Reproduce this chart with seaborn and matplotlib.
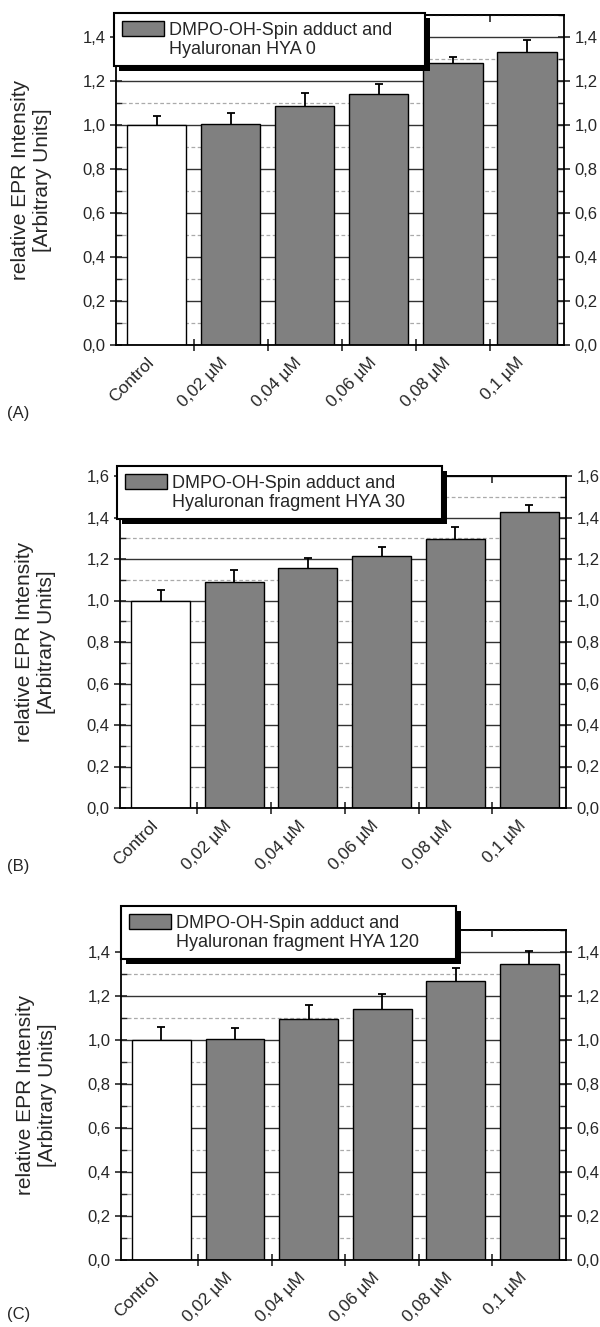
import numpy as np
import pandas as pd
import matplotlib
matplotlib.use("Agg")
import matplotlib.pyplot as plt
import seaborn as sns
from matplotlib.patches import Patch, Rectangle
from matplotlib.ticker import MultipleLocator, FuncFormatter

# values
categories = ["Control", "0,02 µM", "0,04 µM", "0,06 µM", "0,08 µM", "0,1 µM"]

hya0 = [1.00, 1.006, 1.086, 1.143, 1.28, 1.33]
hya0_err = [0.043, 0.05, 0.06, 0.042, 0.03, 0.057]

hya30 = [1.00, 1.087, 1.157, 1.213, 1.295, 1.428]
hya30_err = [0.05, 0.06, 0.046, 0.045, 0.06, 0.032]

hya120 = [1.00, 1.005, 1.095, 1.139, 1.27, 1.345]
hya120_err = [0.06, 0.05, 0.062, 0.07, 0.057, 0.06]

legend_lines = [
    ["DMPO-OH-Spin adduct and", "Hyaluronan HYA 0"],
    ["DMPO-OH-Spin adduct and", "Hyaluronan fragment HYA 30"],
    ["DMPO-OH-Spin adduct and", "Hyaluronan fragment HYA 120"],
]
panel_tags = ["(A)", "(B)", "(C)"]
y_tops = [1.5, 1.6, 1.5]

sns.set_style("ticks")
plt.rcParams['font.family'] = ['Liberation Sans', 'DejaVu Sans']

W, H = 600, 1327
fig = plt.figure(figsize=(W / 100, H / 100), dpi=100)

# axes boxes in pixels: left, right, top, bottom
boxes = [(116, 564, 15, 345), (120, 566, 476, 808), (121, 566, 930, 1260)]
# legend boxes in pixels: left, top, width, height
legend_box = [(114, 13, 311, 54), (117, 466, 325, 54), (121, 906, 335, 54)]
tag_y = [413, 866, 1315]

panels = [(hya0, hya0_err), (hya30, hya30_err), (hya120, hya120_err)]
bar_colors = ["white"] + ["#808080"] * 5


def comma(v, pos):
    return f"{v:.1f}".replace(".", ",")


legends = []
for i, (vals, errs) in enumerate(panels):
    l, r, t, b = boxes[i]
    ax = fig.add_axes([l / W, 1 - b / H, (r - l) / W, (b - t) / H])
    df = pd.DataFrame({"cat": categories, "val": vals})
    sns.barplot(data=df, x="cat", y="val", hue="cat", palette=bar_colors,
                legend=False, width=0.8, edgecolor="black", linewidth=1.0,
                ax=ax, zorder=2)
    # error bars sit behind the bars so only the upper half shows
    ax.errorbar(np.arange(len(vals)), vals, yerr=errs,
                fmt="none", ecolor="black", elinewidth=1.3, capsize=3,
                capthick=1.3, zorder=1.5)

    ax.set_xlim(-0.55, 5.5)
    ax.set_ylim(0, y_tops[i])
    ax.set_xlabel("")
    ax.set_ylabel("relative EPR Intensity\n[Arbitrary Units]", fontsize=15,
                  labelpad=22)

    # ticks between the bars, labels under the bar centres
    ax.set_xticks(np.arange(0.5, 5, 1.0))
    ax.set_xticklabels([])
    ax.set_xticks(np.arange(6), minor=True)
    ax.set_xticklabels(categories, minor=True, rotation=45, ha="right",
                       fontsize=12.5)
    ax.tick_params(axis="x", which="major", direction="inout", length=8,
                   width=1.2)
    ax.tick_params(axis="x", which="minor", length=0, pad=7)

    top = ax.secondary_xaxis("top")
    top.set_xticks(np.arange(0.5, 5, 1.0))
    top.set_xticklabels([])
    top.tick_params(direction="in", length=5, width=1.2)
    top.spines["top"].set_linewidth(1.3)

    ax.yaxis.set_major_locator(MultipleLocator(0.2))
    ax.yaxis.set_minor_locator(MultipleLocator(0.1))
    ax.yaxis.set_major_formatter(FuncFormatter(comma))
    ax.tick_params(axis="y", which="major", direction="inout", length=8,
                   width=1.2, labelsize=12, right=True, labelright=True)
    ax.tick_params(axis="y", which="minor", direction="in", length=4,
                   width=1.0, right=True)

    ax.set_axisbelow(True)
    ax.grid(axis="y", which="major", color="#333333", linewidth=1.0)
    ax.grid(axis="y", which="minor", color="#aaaaaa", linewidth=0.9,
            linestyle=(0, (3, 2)))
    for s in ax.spines.values():
        s.set_visible(True)
        s.set_linewidth(1.3)
        s.set_color("black")

    handles = [Patch(facecolor="#808080", edgecolor="black", linewidth=1.0),
               Patch(facecolor="none", edgecolor="none")]
    lx, ly, lw, lh = legend_box[i]
    leg = fig.legend(handles, legend_lines[i], loc="upper left",
                     bbox_to_anchor=(lx / W, 1 - (ly + lh) / H, lw / W, lh / H),
                     bbox_transform=fig.transFigure, mode="expand",
                     fontsize=13, frameon=True, fancybox=False, shadow=False,
                     handlelength=2.3, handleheight=0.85, handletextpad=0.3,
                     labelspacing=0.12, borderpad=0.45, borderaxespad=0)
    leg.get_frame().set_edgecolor("black")
    leg.get_frame().set_linewidth(1.5)
    leg.get_frame().set_alpha(1.0)
    leg.set_zorder(6)
    legends.append(leg)

    fig.text(7 / W, 1 - tag_y[i] / H, panel_tags[i], fontsize=12,
             ha="left", va="center")

# solid black drop shadow, offset down-right like the original
fig.canvas.draw()
for leg in legends:
    bb = leg.get_frame().get_window_extent()
    fig.patches.append(Rectangle((bb.x0 + 5, bb.y0 - 5), bb.width, bb.height,
                                 transform=None, facecolor="black",
                                 edgecolor="none", zorder=5.5))

fig.savefig("out.png", dpi=100)
